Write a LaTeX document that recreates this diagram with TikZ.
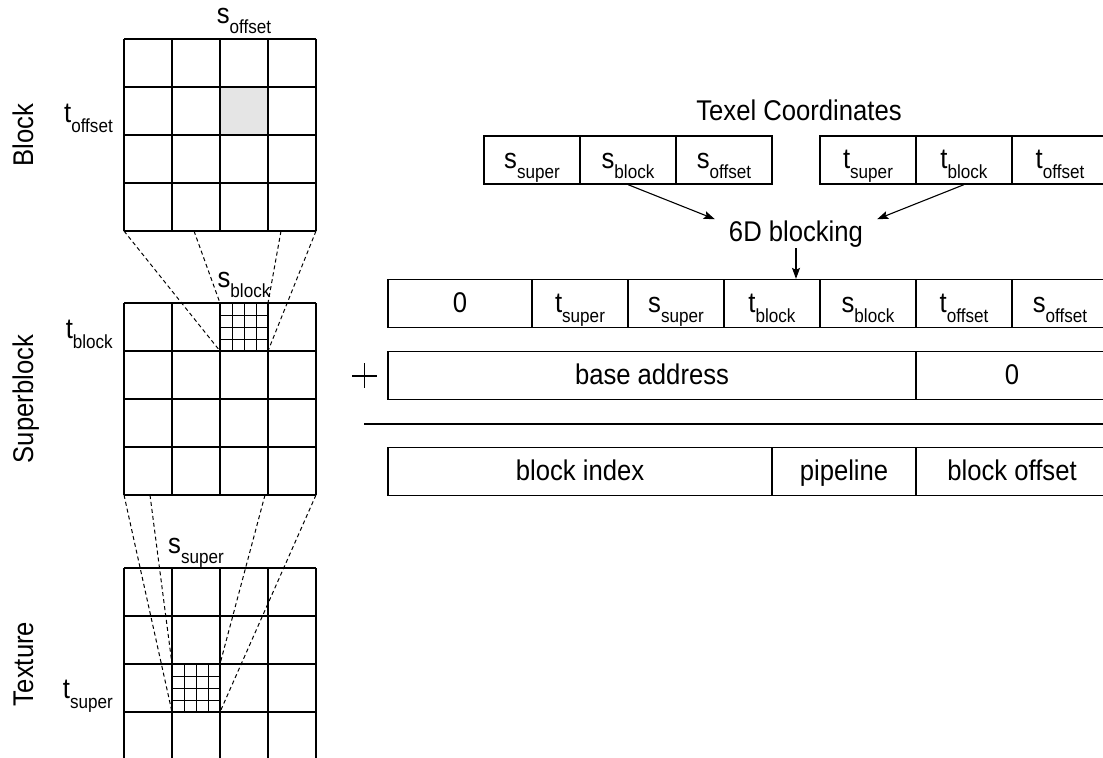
\documentclass[tikz,border=0pt]{standalone}
\usepackage{fontspec}
\setmainfont[FakeStretch=0.9]{Liberation Sans}
\usetikzlibrary{arrows.meta}
\newcommand{\labelsize}{\fontsize{28.5bp}{33bp}\selectfont}
\newcommand{\subsize}{\fontsize{19bp}{22bp}\selectfont}
\newcommand{\texsub}[2]{#1\raisebox{-10bp}{\subsize #2}}

\begin{document}
\begin{tikzpicture}[x=1bp,y=-1bp,font=\labelsize,
  fieldbox/.style={draw=black,line width=1.3bp,minimum height=48bp,inner sep=0pt,text height=27bp,text depth=10bp},
  gridline/.style={draw=black,line width=1.3bp},
  fineline/.style={draw=black,line width=1bp},
  guideline/.style={draw=black,line width=1bp,dash pattern=on 4bp off 3bp},
  feed/.style={draw=black,line width=1.1bp,-{Stealth[length=11bp,width=8bp,inset=2bp]}}]
\clip (0,0) rectangle (1103,758);
\path[fill=black!10,draw=none] (220,87) rectangle (268,135);
\foreach \top in {39,303,568} {
  \foreach \k in {0,...,4} {
    \draw[gridline] (124+48*\k,\top) -- (124+48*\k,\top+192);
    \draw[gridline] (124,\top+48*\k) -- (316,\top+48*\k);
  }
}
\foreach \k in {1,2,3} {
  \draw[fineline] (220+12*\k,303) -- (220+12*\k,351);
  \draw[fineline] (220,303+12*\k) -- (268,303+12*\k);
  \draw[fineline] (172+12*\k,664) -- (172+12*\k,712);
  \draw[fineline] (172,664+12*\k) -- (220,664+12*\k);
}
\draw[guideline] (124,231) -- (220,351);
\draw[guideline] (194,231) -- (220,303);
\draw[guideline] (281,231) -- (268,303);
\draw[guideline] (316,231) -- (268,351);
\draw[guideline] (124,495) -- (172,712);
\draw[guideline] (150,495) -- (172,664);
\draw[guideline] (265,495) -- (220,664);
\draw[guideline] (316,495) -- (220,712);
\node[rotate=90,anchor=base,inner sep=0pt] (level-title-0) at (33,135) {Block};
\node[rotate=90,anchor=base,inner sep=0pt] (level-title-1) at (33,399) {Superblock};
\node[rotate=90,anchor=base,inner sep=0pt] (level-title-2) at (33,664) {Texture};
\node[anchor=base,inner sep=0pt] (grid-label-s-0) at (244,24) {\texsub{s}{offset}};
\node[anchor=base east,inner sep=0pt] (grid-label-t-0) at (113,122) {\texsub{t}{offset}};
\node[anchor=base,inner sep=0pt] (grid-label-s-1) at (244,287) {\texsub{s}{block}};
\node[anchor=base east,inner sep=0pt] (grid-label-t-1) at (113,338) {\texsub{t}{block}};
\node[anchor=base,inner sep=0pt] (grid-label-s-2) at (196,553) {\texsub{s}{super}};
\node[anchor=base east,inner sep=0pt] (grid-label-t-2) at (113,698) {\texsub{t}{super}};
\node[anchor=base,inner sep=0pt] (texel-title) at (799,120) {Texel Coordinates};
\node[fieldbox,minimum width=96bp] (texel-s-0) at (532,160) {\texsub{s}{super}};
\node[fieldbox,minimum width=96bp] (texel-s-1) at (628,160) {\texsub{s}{block}};
\node[fieldbox,minimum width=96bp] (texel-s-2) at (724,160) {\texsub{s}{offset}};
\node[fieldbox,minimum width=96bp] (texel-t-0) at (868,160) {\texsub{t}{super}};
\node[fieldbox,minimum width=96bp] (texel-t-1) at (964,160) {\texsub{t}{block}};
\node[fieldbox,minimum width=96bp] (texel-t-2) at (1060,160) {\texsub{t}{offset}};
\node[anchor=base,inner xsep=14bp,inner ysep=1bp] (blocking) at (796,241) {6D blocking};
\node[fieldbox,minimum width=144bp] (address-0-0) at (460,303.5) {0};
\node[fieldbox,minimum width=96bp] (address-0-1) at (580,303.5) {\texsub{t}{super}};
\node[fieldbox,minimum width=96bp] (address-0-2) at (676,303.5) {\texsub{s}{super}};
\node[fieldbox,minimum width=96bp] (address-0-3) at (772,303.5) {\texsub{t}{block}};
\node[fieldbox,minimum width=96bp] (address-0-4) at (868,303.5) {\texsub{s}{block}};
\node[fieldbox,minimum width=96bp] (address-0-5) at (964,303.5) {\texsub{t}{offset}};
\node[fieldbox,minimum width=96bp] (address-0-6) at (1060,303.5) {\texsub{s}{offset}};
\node[fieldbox,minimum width=528bp] (base-0-0) at (652,375.5) {base address};
\node[fieldbox,minimum width=192bp] (base-0-1) at (1012,375.5) {0};
\node[fieldbox,minimum width=384bp] (result-0-0) at (580,471.5) {block index};
\node[fieldbox,minimum width=144bp] (result-0-1) at (844,471.5) {pipeline};
\node[fieldbox,minimum width=192bp] (result-0-2) at (1012,471.5) {block offset};
\draw[line width=1.3bp] (352,376) -- (377,376) (364.5,363) -- (364.5,388);
\draw[line width=1.3bp] (364,424) -- (1110,424);
\draw[feed] (texel-s-1.south) -- (blocking.north west);
\draw[feed] (texel-t-1.south) -- (blocking.north east);
\draw[feed] (blocking.south) -- (blocking.south |- address-0-3.north);
\end{tikzpicture}
\end{document}
